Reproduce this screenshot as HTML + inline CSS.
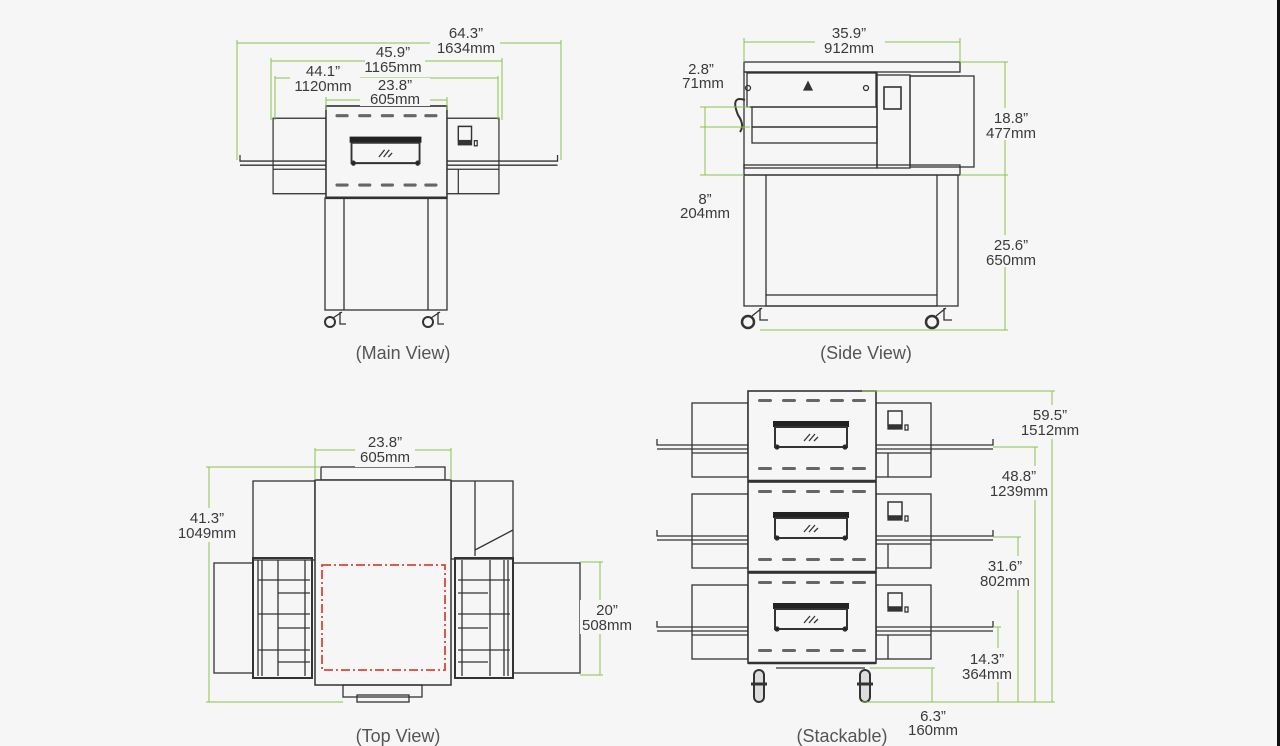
<!DOCTYPE html>
<html><head><meta charset="utf-8"><style>
html,body{margin:0;padding:0;background:#f6f6f6;width:1280px;height:746px;overflow:hidden}
svg{display:block}
text{font-family:"Liberation Sans",sans-serif;fill:#3a3a3a;font-size:15px;text-anchor:middle}
.cap{font-size:18px;fill:#555}
</style></head><body>
<svg width="1280" height="746" viewBox="0 0 1280 746">
<rect x="1277" y="0" width="3" height="746" fill="#111"/>
<defs>
<g id="unit" fill="none" stroke="#333" stroke-width="1.3">
  <rect x="-56" y="12" width="56" height="74" fill="#f6f6f6"/>
  <line x1="-56" y1="62" x2="0" y2="62"/>
  <rect x="128" y="12" width="55" height="74" fill="#f6f6f6"/>
  <line x1="128" y1="62" x2="183" y2="62"/>
  <line x1="140" y1="62" x2="140" y2="86"/>
  <rect x="140" y="20" width="14" height="14" stroke-width="1.5"/>
  <rect x="140" y="35" width="14" height="3" fill="#333"/>
  <rect x="157" y="34" width="3" height="5"/>
  <path d="M-91 48 V54 H245 V48 M-91 58 H0 M128 58 H245" />
  <rect x="0" y="0" width="128" height="90" fill="#f6f6f6" stroke-width="1.6"/>
  <line x1="0" y1="90" x2="128" y2="90" stroke-width="2.5"/>
  <g fill="#666" stroke="none">
    <rect x="10" y="8" width="14" height="3" rx="1.5"/><rect x="34" y="8" width="14" height="3" rx="1.5"/><rect x="58" y="8" width="14" height="3" rx="1.5"/><rect x="82" y="8" width="14" height="3" rx="1.5"/><rect x="104" y="8" width="14" height="3" rx="1.5"/>
    <rect x="10" y="76" width="14" height="3" rx="1.5"/><rect x="34" y="76" width="14" height="3" rx="1.5"/><rect x="58" y="76" width="14" height="3" rx="1.5"/><rect x="82" y="76" width="14" height="3" rx="1.5"/><rect x="104" y="76" width="14" height="3" rx="1.5"/>
  </g>
  <rect x="25" y="30" width="76" height="6" fill="#222" stroke="none"/>
  <rect x="27" y="36" width="72" height="20" stroke-width="2"/>
  <path d="M56 50 L62 43 M61 50 L67 43 M66 50 L70 46"/>
  <circle cx="29" cy="56" r="2" fill="#222"/><circle cx="97" cy="56" r="2" fill="#222"/>
</g>
</defs>

<!-- MAIN VIEW -->
<g transform="translate(326,106) scale(0.945,1.02)"><use href="#unit"/></g>
<g fill="none" stroke="#333" stroke-width="1.3">
  <rect x="325" y="198" width="122" height="112"/>
  <line x1="344" y1="198" x2="344" y2="310"/><line x1="428" y1="198" x2="428" y2="310"/>
  <circle cx="330" cy="322" r="5" stroke-width="2"/><path d="M333 318 L342 312 M340 312 V324 H346"/>
  <circle cx="428" cy="322" r="5" stroke-width="2"/><path d="M431 318 L440 312 M438 312 V324 H444"/>
</g>
<g stroke="#8bc34a" stroke-width="1" fill="none">
  <path d="M237 40 V160 M561 40 V160 M237 43 H561"/>
  <path d="M271 58 V120 M502 58 V120 M271 61 H502"/>
  <path d="M275 76 V120 M498 76 V120 M275 78 H498"/>
  <path d="M326 97 V110 M447 97 V110 M326 100 H447"/>
</g>
<rect x="430" y="28" width="70" height="28" fill="#f6f6f6"/>
<rect x="365" y="46" width="60" height="30" fill="#f6f6f6"/>
<rect x="290" y="64" width="70" height="30" fill="#f6f6f6"/>
<rect x="360" y="78" width="70" height="28" fill="#f6f6f6"/>
<text x="466" y="38">64.3”</text><text x="466" y="53">1634mm</text>
<text x="393" y="57">45.9”</text><text x="393" y="72">1165mm</text>
<text x="323" y="76">44.1”</text><text x="323" y="91">1120mm</text>
<text x="395" y="90">23.8”</text><text x="395" y="104">605mm</text>
<text class="cap" x="403" y="359">(Main View)</text>

<!-- SIDE VIEW -->
<g fill="none" stroke="#333" stroke-width="1.3">
  <rect x="744" y="62" width="216" height="10"/>
  <rect x="744" y="72" width="133" height="96"/>
  <rect x="747" y="73" width="129" height="34"/>
  <rect x="752" y="107" width="125" height="20"/>
  <rect x="752" y="127" width="125" height="16"/>
  <rect x="877" y="75" width="33" height="93"/>
  <rect x="884" y="87" width="17" height="22" stroke-width="1.6"/>
  <rect x="910" y="76" width="64" height="91"/>
  <line x1="910" y1="76" x2="960" y2="76"/>
  <rect x="744" y="165" width="216" height="10"/>
  <rect x="744" y="175" width="214" height="131"/>
  <line x1="766" y1="175" x2="766" y2="295"/><line x1="937" y1="175" x2="937" y2="295"/>
  <rect x="766" y="295" width="171" height="11"/>
  <path d="M745 100 Q730 95 738 115 Q745 125 740 132" stroke-width="2"/>
  <circle cx="748" cy="322" r="6" stroke-width="2.5"/><path d="M752 316 L762 308 M760 308 V320 H768"/>
  <circle cx="932" cy="322" r="6" stroke-width="2.5"/><path d="M936 316 L946 308 M944 308 V320 H952"/>
  <path d="M808 82 L804 90 H812 Z" fill="#333"/>
  <circle cx="748" cy="88" r="2.5"/><circle cx="866" cy="88" r="2.5"/>
</g>
<g stroke="#8bc34a" stroke-width="1" fill="none">
  <path d="M744 38 V62 M960 38 V62 M744 42 H960"/>
  <path d="M960 62 H1008 M960 175 H1008 M1005 62 V330 M760 330 H1008"/>
  <path d="M700 107 H750 M700 127 H750 M700 175 H744 M705 107 V175"/>
</g>
<rect x="815" y="28" width="70" height="30" fill="#f6f6f6"/>
<rect x="985" y="108" width="55" height="32" fill="#f6f6f6"/>
<rect x="985" y="235" width="55" height="32" fill="#f6f6f6"/>
<text x="849" y="38">35.9”</text><text x="849" y="53">912mm</text>
<text x="701" y="74">2.8”</text><text x="703" y="88">71mm</text>
<text x="705" y="204">8”</text><text x="705" y="218">204mm</text>
<text x="1011" y="123">18.8”</text><text x="1011" y="138">477mm</text>
<text x="1011" y="250">25.6”</text><text x="1011" y="265">650mm</text>
<text class="cap" x="866" y="359">(Side View)</text>

<!-- TOP VIEW -->
<g fill="none" stroke="#333" stroke-width="1.3">
  <rect x="321" y="467" width="124" height="13"/>
  <rect x="253" y="481" width="62" height="79"/>
  <rect x="451" y="481" width="62" height="78"/>
  <line x1="475" y1="481" x2="475" y2="556"/><line x1="475" y1="550" x2="513" y2="530"/>
  <rect x="214" y="563" width="39" height="110"/>
  <rect x="513" y="563" width="67" height="110"/>
  <rect x="253" y="558" width="59" height="120" stroke-width="2"/>
  <rect x="455" y="558" width="58" height="120" stroke-width="2"/>
  <path d="M258 560 V676 M262 560 V676 M278 560 V676 M305 560 V676 M258 580 H310 M258 614 H310 M258 650 H310 M278 593 H310 M278 628 H310 M278 662 H310"/>
  <path d="M508 560 V676 M504 560 V676 M490 560 V676 M462 560 V676 M458 580 H510 M458 614 H510 M458 650 H510 M458 593 H488 M458 628 H488 M458 662 H488"/>
  <rect x="315" y="480" width="136" height="205" fill="#f6f6f6" stroke-width="1.5"/>
  <rect x="343" y="685" width="79" height="12"/>
  <rect x="357" y="695" width="52" height="7"/>
</g>
<rect x="322" y="565" width="123" height="105" fill="none" stroke="#d9463a" stroke-width="1.8" stroke-dasharray="9,3,2,3"/>
<g stroke="#8bc34a" stroke-width="1" fill="none">
  <path d="M315 448 V480 M451 448 V480 M315 450 H451"/>
  <path d="M206 467 H321 M206 702 H343 M209 467 V702"/>
  <path d="M580 562 H603 M580 675 H603 M600 562 V675"/>
</g>
<rect x="355" y="433" width="60" height="34" fill="#f6f6f6"/>
<rect x="175" y="508" width="65" height="34" fill="#f6f6f6"/>
<rect x="580" y="600" width="55" height="34" fill="#f6f6f6"/>
<text x="385" y="447">23.8”</text><text x="385" y="462">605mm</text>
<text x="207" y="523">41.3”</text><text x="207" y="538">1049mm</text>
<text x="607" y="615">20”</text><text x="607" y="630">508mm</text>
<text class="cap" x="398" y="742">(Top View)</text>

<!-- STACKABLE -->
<use href="#unit" transform="translate(748,391)"/>
<use href="#unit" transform="translate(748,482)"/>
<use href="#unit" transform="translate(748,573)"/>
<g fill="none" stroke="#333" stroke-width="1.3">
  <line x1="776" y1="668" x2="865" y2="668"/>
  <rect x="754" y="670" width="10" height="32" rx="5" fill="#ddd" stroke-width="2"/>
  <rect x="860" y="670" width="10" height="32" rx="5" fill="#ddd" stroke-width="2"/>
  <path d="M751 684 H767 M857 684 H873" stroke-width="3"/>
</g>
<g stroke="#8bc34a" stroke-width="1" fill="none">
  <path d="M862 391 H1055 M1052 391 V702"/>
  <path d="M993 447 H1038 M1035 447 V702"/>
  <path d="M993 537 H1021 M1018 537 V702"/>
  <path d="M993 627 H1001 M998 627 V702"/>
  <path d="M870 668 H935 M932 668 V702 M862 702 H1055"/>
</g>
<rect x="1020" y="405" width="60" height="34" fill="#f6f6f6"/>
<rect x="988" y="466" width="62" height="34" fill="#f6f6f6"/>
<rect x="978" y="556" width="55" height="34" fill="#f6f6f6"/>
<rect x="958" y="648" width="55" height="34" fill="#f6f6f6"/>
<text x="1050" y="420">59.5”</text><text x="1050" y="435">1512mm</text>
<text x="1019" y="481">48.8”</text><text x="1019" y="496">1239mm</text>
<text x="1005" y="571">31.6”</text><text x="1005" y="586">802mm</text>
<text x="987" y="664">14.3”</text><text x="987" y="679">364mm</text>
<text x="933" y="721">6.3”</text><text x="933" y="735">160mm</text>
<text class="cap" x="842" y="742">(Stackable)</text>
</svg>
</body></html>
